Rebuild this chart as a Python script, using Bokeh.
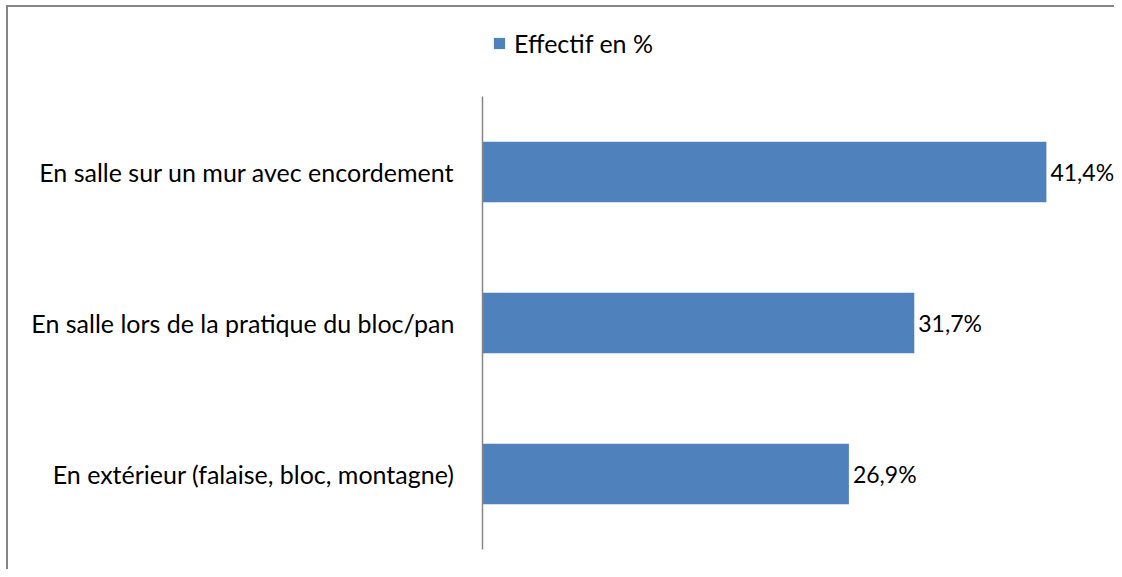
from bokeh.plotting import figure
from bokeh.models import ColumnDataSource, Legend, LegendItem, Range1d, LabelSet, FixedTicker
from bokeh.embed import file_html
from bokeh.resources import INLINE
from bokeh.core.properties import value

categories = [
    "En salle sur un mur avec encordement",
    "En salle lors de la pratique du bloc/pan",
    "En extérieur (falaise, bloc, montagne)",
]
values = [41.4, 31.7, 26.9]
labels = [f"{v:.1f}".replace(".", ",") + "%" for v in values]
series_name = "Effectif en %"

FONT = "Lato"
FS = "25px"
n = len(categories)
ypos = [n - 1 - i for i in range(n)]
src = ColumnDataSource(dict(cat=categories, y=ypos, val=values, lab=labels))

p = figure(
    y_range=Range1d(-0.5, n - 0.5 + 96 / 151),
    x_range=Range1d(0, 46.4),
    width=1114, height=569,
    output_backend="svg", toolbar_location=None,
    min_border_left=482, min_border_right=0,
    min_border_top=0, min_border_bottom=20,
)
p.outline_line_color = None
p.border_fill_alpha = 0
p.background_fill_alpha = 0
p.grid.visible = False
p.xaxis.visible = False
p.styles = {
    "background": "linear-gradient(#868686,#868686) 6px 5px / 2px calc(100% - 5px) no-repeat, "
                  "linear-gradient(#868686,#868686) 6px 5px / calc(100% - 6px) 2px no-repeat, white",
}

r = p.hbar(y="y", right="val", left=0, height=0.4, source=src,
           fill_color="#4F81BD", line_color=None)

p.yaxis.ticker = FixedTicker(ticks=ypos)
p.yaxis.major_label_overrides = {y: c for y, c in zip(ypos, categories)}
p.yaxis.bounds = (-0.5, n - 0.5)
p.yaxis.axis_line_color = "#868686"
p.yaxis.axis_line_width = 1.5
p.yaxis.major_tick_line_color = None
p.yaxis.minor_tick_line_color = None
p.yaxis.major_label_standoff = 22
p.yaxis.major_label_text_font = FONT
p.yaxis.major_label_text_font_size = FS
p.yaxis.major_label_text_color = "black"

lbl = LabelSet(x="val", y="y", text="lab", source=src, x_offset=4,
               text_baseline="middle", text_align="left",
               text_font=value(FONT), text_font_size="23px", text_color="black")
p.add_layout(lbl)

legend = Legend(items=[LegendItem(label=series_name, renderers=[r])],
                location=(10, 491), orientation="horizontal",
                glyph_width=14, glyph_height=14, label_standoff=8,
                padding=0, margin=0, border_line_color=None,
                background_fill_alpha=0,
                label_text_font=FONT, label_text_font_size=FS,
                label_text_color="black")
p.add_layout(legend, "center")

open("out.html", "w").write(file_html(p, INLINE))
